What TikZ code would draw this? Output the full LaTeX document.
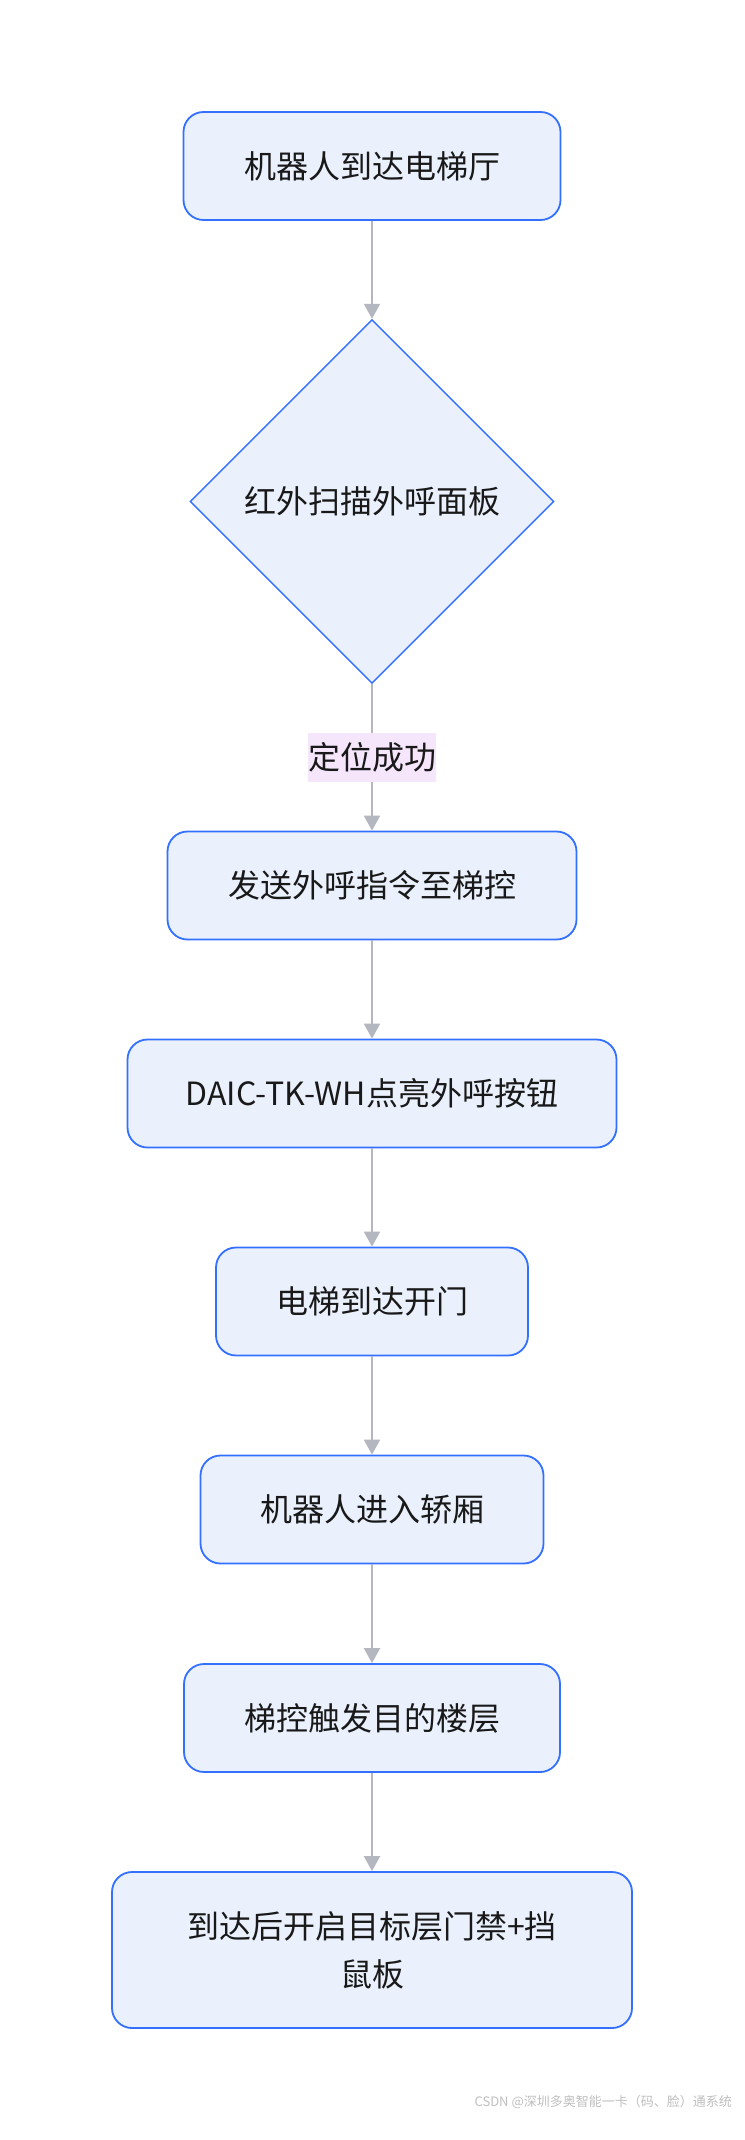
\documentclass[tikz,border=0pt]{standalone}
\usepackage{fontspec}
\setmainfont{Noto Sans CJK SC}
\usetikzlibrary{shapes.geometric,arrows.meta}
\definecolor{boxfill}{HTML}{EAF1FD}
\definecolor{boxline}{HTML}{3370FF}
\definecolor{edgecol}{HTML}{B4B7C0}
\definecolor{lblfill}{HTML}{F5E6FC}
\definecolor{wmcol}{HTML}{BFBFBF}
\begin{document}
\begin{tikzpicture}[x=1pt,y=1pt,
  every node/.style={font=\fontsize{32}{48}\selectfont, text=black!90},
  proc/.style={draw=boxline, fill=boxfill, line width=1.8pt, rounded corners=20pt,
    inner sep=0pt, minimum height=108pt, align=center},
  decide/.style={draw=boxline, fill=boxfill, line width=1.4pt, diamond, aspect=1,
    inner sep=0pt, minimum width=364pt, minimum height=364pt},
  edge/.style={draw=edgecol, line width=2pt, -{Triangle[width=16pt,length=15pt]}},
  lbl/.style={fill=lblfill, inner sep=0pt, minimum width=128pt, minimum height=49pt}
]
\useasboundingbox (0,0) rectangle (744,-2140);
\fill[white] (0,0) rectangle (744,-2140);

\node[proc, minimum width=377pt] (n1) at (372,-166) {机器人到达电梯厅};
\node[decide] (d) at (372,-501.5) {红外扫描外呼面板};
\node[proc, minimum width=409pt] (n3) at (372,-885.5) {发送外呼指令至梯控};
\node[proc, minimum width=489pt] (n4) at (372,-1093.5) {DAIC-TK-WH点亮外呼按钮};
\node[proc, minimum width=312pt] (n5) at (372,-1301.5) {电梯到达开门};
\node[proc, minimum width=343pt] (n6) at (372,-1509.5) {机器人进入轿厢};
\node[proc, minimum width=376pt] (n7) at (372,-1718) {梯控触发目的楼层};
\node[proc, minimum width=520pt, minimum height=156pt] (n8) at (372,-1950) {到达后开启目标层门禁+挡\\鼠板};

\draw[edge] (n1.south) -- (d.north);
\draw[edge] (d.south) -- node[lbl, pos=0.5] (l1) {定位成功} (n3.north);
\draw[edge] (n3.south) -- (n4.north);
\draw[edge] (n4.south) -- (n5.north);
\draw[edge] (n5.south) -- (n6.north);
\draw[edge] (n6.south) -- (n7.north);
\draw[edge] (n7.south) -- (n8.north);

\node[font=\fontsize{13}{15}\selectfont, text=wmcol, anchor=east, inner sep=0pt] (wm) at (732,-2102) {CSDN @深圳多奥智能一卡（码、脸）通系统};
\end{tikzpicture}
\end{document}
